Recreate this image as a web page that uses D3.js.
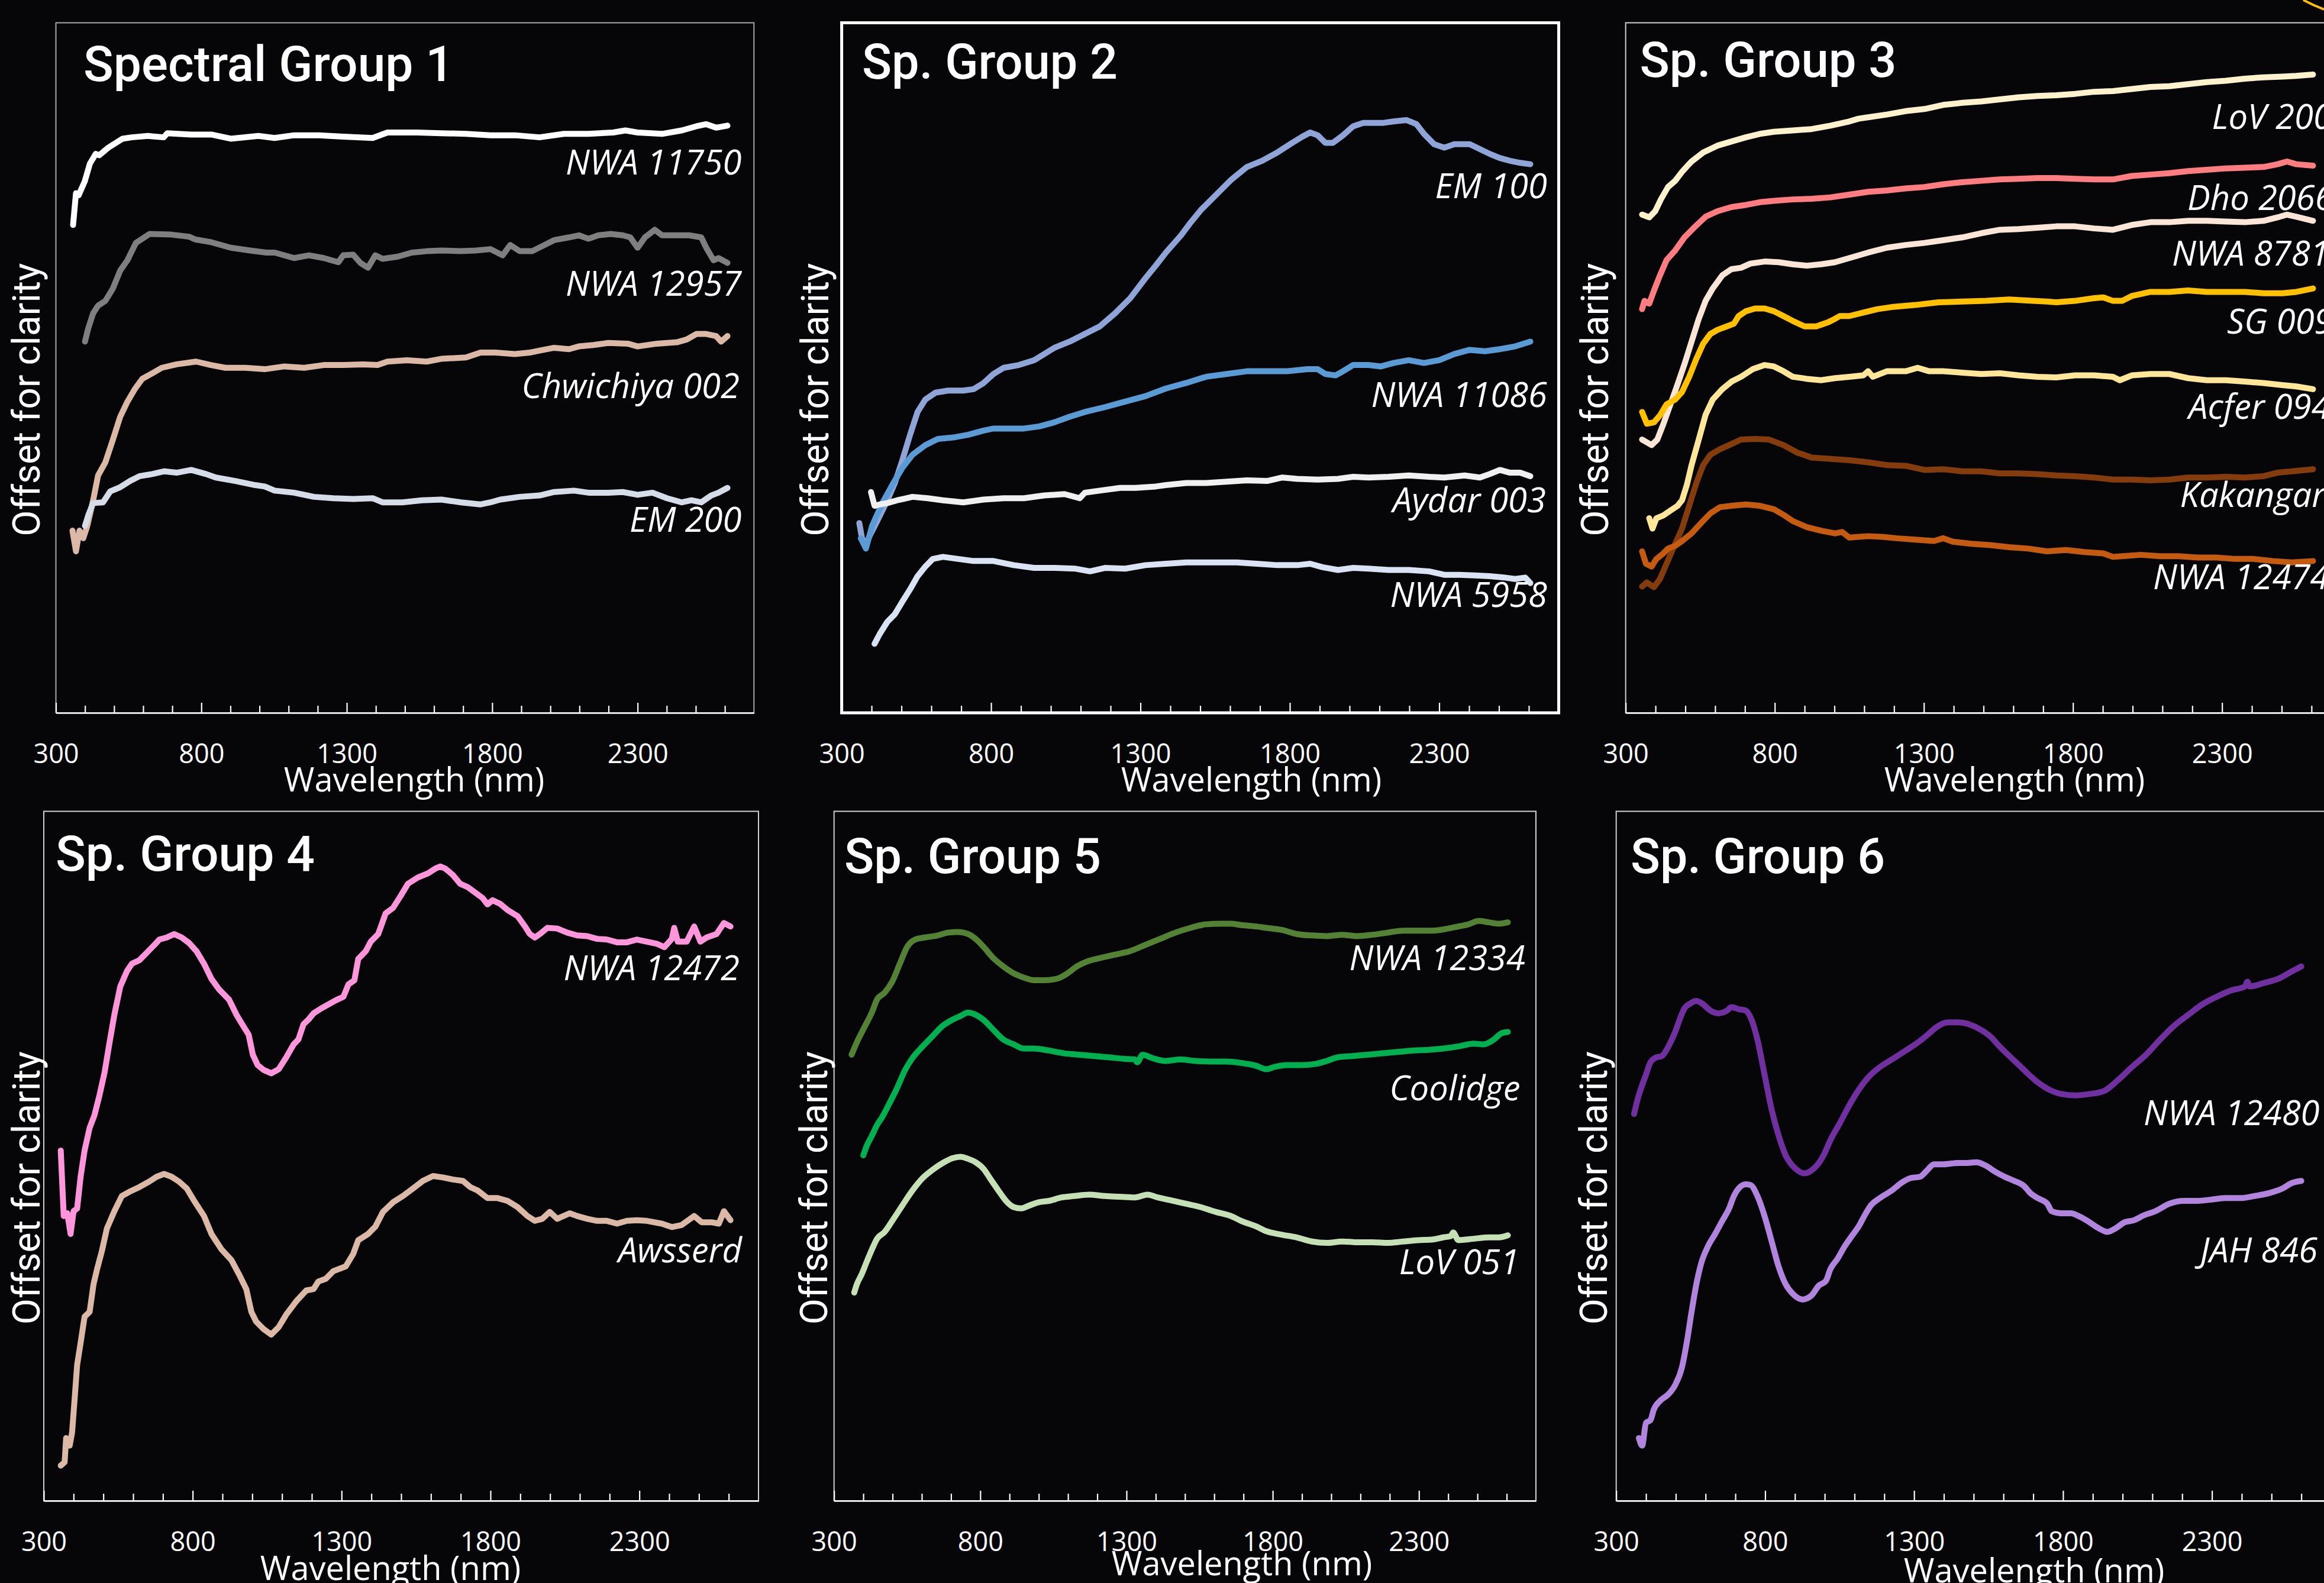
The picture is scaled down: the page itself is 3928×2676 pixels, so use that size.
<!DOCTYPE html>
<html>
<head>
<meta charset="utf-8">
<script src="https://cdn.jsdelivr.net/npm/d3@7"></script>
<style>
  html, body { margin: 0; padding: 0; background: #060609; }
  svg { display: block; }
</style>
</head>
<body>
<svg id="chart" width="3928" height="2676"></svg>
<script>
// ---------------------------------------------------------------
// Reflectance spectra, offset for clarity.
// Each point: [wavelength (nm), offset reflectance (arbitrary units, 0-100 per panel)]
// ---------------------------------------------------------------
const groupTitles = ["Spectral Group 1", "Sp. Group 2", "Sp. Group 3", "Sp. Group 4", "Sp. Group 5", "Sp. Group 6"];
const majorTicks = [300, 800, 1300, 1800, 2300];
const wavelengthDomain = [300, 2700];

// Group 1
const nwa11750 = [[359,70.7],[369,75.3],[378,75.0],[399,77.0],[417,79.6],[437,81.0],[449,80.8],[480,81.9],[529,83.2],[561,83.4],[616,83.6],[671,83.4],[683,84.0],[765,83.8],[834,83.8],[901,83.2],[996,83.6],[1052,83.3],[1119,83.7],[1204,83.7],[1288,83.5],[1389,83.3],[1440,84.1],[1541,84.1],[1625,84.0],[1710,83.9],[1794,83.7],[1878,83.7],[1963,83.4],[2047,83.9],[2131,83.9],[2216,84.1],[2258,84.4],[2300,84.1],[2384,83.9],[2452,84.4],[2502,85.0],[2536,85.3],[2570,84.8],[2609,85.1]];
const nwa12957 = [[400,53.8],[411,55.7],[428,57.9],[445,59.0],[470,59.7],[496,61.5],[521,64.1],[546,65.6],[575,68.1],[622,69.4],[697,69.3],[758,69.0],[779,68.6],[834,68.2],[901,67.4],[968,67.0],[1023,66.7],[1052,66.7],[1119,65.9],[1170,66.3],[1221,65.9],[1271,65.3],[1288,66.3],[1322,66.4],[1347,65.2],[1373,64.5],[1398,66.3],[1423,65.8],[1474,66.1],[1524,66.7],[1575,66.9],[1625,67.0],[1693,66.9],[1743,67.0],[1794,67.2],[1836,66.3],[1862,67.8],[1895,66.9],[1937,66.9],[1980,67.8],[2013,68.5],[2064,68.9],[2098,69.2],[2131,68.7],[2165,69.2],[2207,69.4],[2249,69.2],[2275,68.9],[2300,67.4],[2325,68.9],[2359,70.0],[2384,69.2],[2435,69.2],[2477,69.2],[2519,68.9],[2536,67.4],[2561,65.6],[2578,65.9],[2609,65.2]];
const chwichiya002 = [[357,26.4],[369,23.4],[381,26.4],[394,25.3],[408,27.1],[428,30.8],[445,34.4],[470,36.3],[496,39.6],[521,42.9],[546,45.1],[571,46.9],[597,48.4],[631,49.2],[664,50.0],[715,50.5],[782,50.9],[833,50.4],[883,50.0],[951,50.0],[1018,49.8],[1086,50.2],[1153,50.0],[1221,50.4],[1288,50.4],[1356,50.5],[1406,50.4],[1440,50.9],[1507,51.1],[1575,50.9],[1625,51.3],[1710,51.5],[1760,52.2],[1811,52.2],[1878,52.0],[1929,52.2],[1963,52.5],[2013,52.9],[2064,52.7],[2098,53.1],[2148,53.3],[2199,53.6],[2266,53.5],[2300,53.1],[2367,53.5],[2435,53.7],[2469,54.1],[2502,54.9],[2536,54.9],[2570,54.6],[2587,53.8],[2609,54.6]];
const em200 = [[400,27.1],[411,28.6],[428,30.4],[462,30.5],[487,32.1],[521,32.7],[555,33.6],[588,34.3],[631,34.6],[673,35.0],[715,34.8],[765,35.2],[816,34.6],[850,34.1],[917,33.6],[985,33.0],[1018,32.8],[1052,32.2],[1119,31.9],[1187,31.3],[1254,31.1],[1322,31.0],[1389,31.1],[1423,30.5],[1491,30.5],[1558,30.8],[1625,30.9],[1693,30.5],[1760,30.2],[1794,30.5],[1828,30.9],[1895,31.3],[1963,31.5],[2013,32.0],[2081,32.2],[2131,31.9],[2199,31.9],[2249,32.0],[2300,31.6],[2351,31.9],[2401,31.1],[2452,30.5],[2485,30.8],[2519,30.5],[2553,31.5],[2578,31.9],[2609,32.6]];

// Group 2
const em100 = [[359,27.5],[368,25.3],[380,24.2],[393,25.6],[419,27.8],[453,30.8],[478,33.3],[503,36.6],[529,40.3],[554,43.6],[580,45.4],[614,46.4],[656,46.7],[707,46.7],[741,46.9],[775,47.8],[808,49.1],[842,50.0],[893,50.4],[944,51.1],[978,52.0],[1012,52.9],[1063,53.8],[1114,54.9],[1164,56.0],[1215,57.9],[1266,60.1],[1317,63.0],[1351,64.8],[1385,66.7],[1436,69.2],[1469,71.1],[1503,72.9],[1554,75.1],[1605,77.3],[1656,79.1],[1707,80.0],[1758,81.2],[1808,82.6],[1842,83.5],[1868,84.1],[1893,83.7],[1919,82.6],[1944,82.6],[1978,83.7],[2012,85.0],[2046,85.5],[2114,85.5],[2147,85.7],[2190,85.9],[2224,85.3],[2249,83.9],[2283,82.4],[2317,81.9],[2351,82.4],[2402,82.4],[2436,81.7],[2469,81.0],[2503,80.4],[2537,80.0],[2571,79.7],[2605,79.5]];
const nwa11086 = [[364,25.3],[381,23.8],[402,27.1],[436,30.4],[469,33.0],[503,35.5],[537,37.4],[580,38.8],[622,39.7],[673,39.9],[724,40.3],[775,40.9],[808,41.2],[842,41.2],[910,41.2],[961,41.5],[1012,42.1],[1063,42.9],[1114,43.6],[1181,44.3],[1249,45.1],[1317,45.9],[1385,47.0],[1453,47.8],[1520,48.7],[1588,49.1],[1656,49.5],[1724,49.5],[1792,49.5],[1859,49.8],[1893,49.8],[1919,49.1],[1953,48.9],[1978,49.5],[2012,50.4],[2063,50.4],[2105,50.2],[2147,50.7],[2198,51.1],[2249,50.7],[2300,51.1],[2351,52.0],[2402,52.6],[2453,52.4],[2503,52.7],[2554,53.1],[2605,53.8]];
const aydar003 = [[398,32.0],[410,30.0],[427,30.2],[453,30.4],[486,30.8],[537,31.3],[588,31.1],[639,30.8],[707,30.5],[775,30.9],[842,31.1],[910,31.1],[978,31.5],[1046,31.7],[1097,31.1],[1114,31.9],[1164,32.2],[1232,32.6],[1283,32.6],[1351,32.8],[1385,33.0],[1453,33.3],[1520,33.3],[1588,33.5],[1656,33.7],[1724,33.6],[1775,34.1],[1825,33.9],[1893,33.8],[1961,33.9],[2012,34.2],[2063,34.1],[2131,34.2],[2198,34.4],[2266,34.2],[2317,34.1],[2385,34.4],[2436,34.1],[2469,34.6],[2503,35.2],[2537,34.8],[2571,34.8],[2605,34.3]];
const nwa5958 = [[410,10.0],[427,11.4],[453,13.2],[478,14.3],[503,16.1],[529,17.9],[554,19.8],[580,21.2],[605,22.3],[639,22.6],[690,22.3],[741,22.0],[808,22.0],[876,21.4],[944,21.0],[1012,21.0],[1080,20.9],[1131,20.5],[1181,21.0],[1249,20.9],[1317,21.4],[1385,21.6],[1453,21.8],[1537,21.8],[1622,21.8],[1690,21.6],[1758,21.4],[1825,21.4],[1868,21.6],[1910,21.1],[1961,20.7],[2012,21.0],[2063,20.9],[2131,20.7],[2198,20.7],[2266,20.5],[2317,20.0],[2368,20.0],[2419,19.9],[2469,19.8],[2520,19.6],[2554,19.4],[2588,19.6],[2605,18.8]];

// Group 3
const lov200 = [[355,72.2],[379,71.8],[399,72.7],[418,74.4],[442,76.2],[466,77.1],[489,78.4],[521,79.9],[560,81.2],[608,82.2],[655,82.8],[703,83.4],[750,83.9],[797,84.2],[860,84.4],[924,84.6],[987,85.1],[1050,85.7],[1081,86.1],[1113,86.3],[1176,86.7],[1239,87.2],[1302,87.5],[1365,88.1],[1429,88.4],[1492,88.6],[1555,88.9],[1618,89.2],[1681,89.4],[1744,89.5],[1807,89.7],[1871,90.0],[1934,90.1],[1997,90.4],[2060,90.7],[2123,90.8],[2186,91.1],[2249,91.4],[2313,91.6],[2376,91.9],[2439,92.1],[2502,92.2],[2549,92.3],[2605,92.5]];
const dho2066 = [[355,58.5],[363,59.7],[379,59.3],[395,61.2],[415,63.4],[437,65.6],[466,67.0],[497,68.9],[529,70.3],[568,71.9],[608,72.7],[655,73.3],[703,73.6],[750,74.0],[797,74.2],[860,74.4],[924,74.5],[987,74.7],[1050,75.1],[1113,75.5],[1176,75.7],[1239,76.0],[1302,76.2],[1365,76.6],[1429,76.9],[1492,77.1],[1555,77.3],[1618,77.4],[1681,77.5],[1744,77.5],[1807,77.4],[1871,77.3],[1934,77.3],[1997,77.8],[2060,78.0],[2123,78.2],[2186,78.5],[2249,78.7],[2313,78.9],[2376,79.0],[2439,79.1],[2486,79.5],[2518,79.9],[2549,79.5],[2605,79.3]];
const nwa8781 = [[355,39.6],[371,39.2],[387,38.8],[406,39.6],[426,41.8],[450,44.7],[474,47.6],[497,50.5],[521,53.8],[545,57.1],[568,59.7],[592,61.5],[624,63.4],[655,64.3],[687,64.5],[718,65.1],[766,65.4],[813,65.3],[860,65.0],[908,64.8],[955,65.0],[1002,65.3],[1050,65.9],[1113,66.7],[1176,67.4],[1239,67.8],[1302,68.1],[1365,68.5],[1429,68.9],[1492,69.5],[1555,70.0],[1618,70.1],[1681,70.3],[1744,70.5],[1807,70.5],[1871,70.2],[1934,70.0],[1997,70.7],[2060,71.1],[2123,71.1],[2186,71.3],[2249,71.3],[2313,71.2],[2376,71.1],[2439,71.3],[2486,71.8],[2518,72.2],[2549,71.9],[2605,71.3]];
const sg009 = [[355,43.6],[371,41.9],[395,42.1],[415,43.1],[437,44.7],[466,45.4],[489,46.5],[513,48.7],[537,51.3],[560,53.5],[584,54.9],[608,55.5],[639,56.0],[663,56.4],[679,57.5],[703,58.2],[734,58.6],[766,58.6],[797,58.2],[829,57.5],[860,56.8],[900,56.0],[939,56.0],[979,56.6],[1002,57.1],[1018,57.5],[1050,57.5],[1097,58.0],[1144,58.5],[1192,58.8],[1271,59.1],[1350,59.5],[1429,59.6],[1508,59.7],[1586,59.9],[1665,59.7],[1713,59.6],[1744,59.5],[1807,59.7],[1871,60.1],[1902,60.2],[1934,59.7],[1965,59.7],[1997,60.4],[2060,61.0],[2123,61.0],[2186,61.2],[2249,61.0],[2313,61.0],[2376,61.0],[2439,60.8],[2502,60.8],[2549,61.0],[2605,61.5]];
const acfer094 = [[379,28.2],[390,26.7],[403,28.2],[426,28.6],[450,29.3],[474,30.0],[489,30.8],[505,33.0],[521,35.9],[545,39.6],[568,43.2],[592,45.4],[624,46.9],[655,48.0],[687,48.7],[726,49.8],[766,50.4],[797,50.2],[829,49.5],[860,48.7],[908,48.4],[955,48.2],[1002,48.5],[1050,48.7],[1097,48.9],[1113,49.5],[1129,48.7],[1176,49.5],[1239,49.5],[1279,50.0],[1318,49.5],[1365,49.5],[1429,49.3],[1492,49.1],[1555,49.2],[1618,48.9],[1681,48.7],[1744,48.6],[1807,48.9],[1871,48.9],[1934,48.7],[1957,48.2],[1997,48.9],[2060,49.1],[2123,49.1],[2186,48.5],[2249,48.2],[2313,48.2],[2376,48.0],[2439,47.8],[2502,47.5],[2549,47.3],[2605,46.9]];
const kakangari = [[355,18.3],[371,18.9],[395,18.2],[415,19.4],[437,21.6],[466,24.5],[489,26.7],[513,30.0],[537,33.3],[560,35.9],[584,37.4],[616,38.2],[647,38.8],[687,39.6],[734,39.7],[781,39.6],[829,38.8],[876,37.7],[924,37.0],[987,36.8],[1050,36.6],[1113,36.3],[1176,35.9],[1239,35.8],[1302,35.2],[1365,35.3],[1429,35.0],[1492,35.0],[1555,34.7],[1618,34.7],[1681,34.6],[1744,34.4],[1807,34.3],[1871,34.1],[1934,33.8],[1997,33.8],[2060,33.7],[2123,33.8],[2186,34.1],[2249,34.1],[2313,34.2],[2376,34.1],[2439,34.3],[2486,34.8],[2534,35.0],[2605,35.3]];
const nwa12474 = [[355,23.4],[368,21.6],[387,21.2],[403,22.3],[426,23.1],[442,23.8],[466,24.2],[489,24.9],[521,26.0],[553,27.5],[584,28.9],[616,29.8],[655,30.0],[703,30.2],[750,30.0],[797,29.5],[829,28.7],[860,27.8],[908,26.9],[955,26.4],[1002,26.0],[1026,26.2],[1050,25.4],[1081,25.5],[1113,25.6],[1160,25.5],[1208,25.3],[1271,25.1],[1334,24.9],[1365,25.3],[1397,24.8],[1460,24.5],[1523,24.3],[1586,24.0],[1650,23.8],[1713,23.4],[1776,23.6],[1839,23.3],[1902,23.1],[1934,22.6],[1965,22.7],[2028,22.9],[2092,22.7],[2155,22.7],[2218,22.5],[2281,22.5],[2344,22.3],[2407,22.3],[2470,22.0],[2534,21.8],[2605,22.0]];

// Group 4
const nwa12472 = [[357,50.8],[367,41.3],[379,41.7],[390,38.7],[400,42.0],[412,42.4],[424,47.1],[437,50.8],[454,54.1],[470,55.9],[487,58.8],[504,62.1],[521,66.5],[537,70.5],[557,74.6],[579,76.8],[596,77.9],[621,78.4],[646,79.5],[671,80.6],[688,81.4],[713,81.7],[738,82.2],[763,81.7],[788,80.9],[813,79.7],[838,77.9],[863,75.7],[888,74.2],[922,72.7],[947,70.5],[972,68.7],[988,67.6],[1002,64.7],[1018,63.2],[1038,62.5],[1064,62.0],[1089,62.6],[1114,64.3],[1139,66.2],[1155,66.9],[1172,69.1],[1189,69.8],[1206,70.7],[1231,71.4],[1256,72.0],[1281,72.6],[1306,73.1],[1323,74.9],[1343,75.5],[1356,78.6],[1381,79.7],[1398,81.1],[1423,82.2],[1448,85.2],[1473,86.0],[1498,87.7],[1523,89.5],[1556,90.4],[1590,91.0],[1615,91.7],[1632,92.0],[1648,91.7],[1673,90.8],[1698,89.5],[1724,89.0],[1749,88.2],[1774,87.4],[1790,86.5],[1807,87.1],[1832,86.6],[1857,85.7],[1891,84.8],[1916,83.3],[1932,82.2],[1949,81.7],[1966,82.2],[1991,83.1],[2024,83.0],[2058,82.4],[2091,82.0],[2125,81.9],[2158,81.5],[2191,81.4],[2225,81.0],[2258,81.0],[2292,81.4],[2325,81.1],[2358,80.8],[2384,80.3],[2409,81.5],[2417,83.1],[2429,81.1],[2459,81.1],[2484,83.3],[2505,81.1],[2526,81.7],[2559,82.2],[2584,83.8],[2606,83.3]];
const awsserd = [[357,5.1],[370,5.6],[375,9.1],[387,8.0],[395,9.9],[404,15.0],[412,19.7],[424,23.0],[437,26.7],[454,27.4],[467,31.4],[479,33.6],[495,36.2],[512,39.5],[537,42.0],[562,44.2],[587,44.8],[621,45.5],[654,46.3],[679,47.0],[704,47.4],[729,47.0],[754,46.3],[780,45.3],[805,43.5],[838,41.3],[863,38.7],[896,36.5],[930,34.9],[955,32.9],[980,30.7],[997,27.4],[1013,26.0],[1038,24.9],[1064,24.1],[1089,25.2],[1114,27.0],[1147,28.9],[1181,30.5],[1206,30.7],[1222,31.8],[1247,32.2],[1272,33.3],[1314,34.0],[1339,35.8],[1356,37.8],[1389,38.7],[1414,39.8],[1439,41.9],[1473,43.3],[1506,44.2],[1540,45.3],[1573,46.4],[1607,47.1],[1640,46.9],[1673,46.6],[1707,46.4],[1732,45.5],[1757,45.0],[1790,43.9],[1824,43.9],[1857,43.5],[1891,42.6],[1924,41.3],[1949,40.6],[1974,40.9],[1999,41.9],[2024,40.9],[2066,41.7],[2091,41.3],[2125,40.9],[2158,40.6],[2191,40.6],[2225,40.2],[2258,40.6],[2292,40.7],[2325,40.6],[2375,40.2],[2409,39.7],[2442,40.0],[2484,41.3],[2509,40.4],[2542,40.4],[2567,40.2],[2584,42.0],[2606,40.7]];

// Group 5
const nwa12334 = [[360,64.7],[378,66.5],[404,68.7],[430,70.9],[447,72.7],[473,73.7],[499,75.3],[525,77.9],[551,80.4],[577,81.4],[611,81.7],[654,82.0],[689,82.4],[724,82.5],[758,82.2],[784,81.5],[810,80.4],[845,78.7],[879,77.5],[914,76.5],[948,75.9],[983,75.5],[1017,75.5],[1061,75.7],[1095,76.4],[1130,77.5],[1164,78.2],[1208,78.7],[1259,79.2],[1311,79.7],[1363,80.6],[1415,81.5],[1467,82.4],[1519,83.1],[1570,83.6],[1622,83.7],[1657,83.7],[1692,83.5],[1743,83.3],[1778,83.1],[1830,82.8],[1882,82.2],[1934,82.0],[1985,81.9],[2037,82.1],[2089,81.9],[2141,82.1],[2193,82.4],[2245,82.7],[2297,82.7],[2348,82.7],[2400,83.0],[2435,83.3],[2469,83.6],[2504,84.1],[2539,83.9],[2573,83.7],[2604,83.9]];
const coolidge = [[400,50.1],[412,51.5],[430,53.0],[447,54.5],[464,55.6],[490,57.7],[516,59.9],[542,62.4],[568,64.2],[603,65.9],[637,67.4],[672,68.9],[706,69.8],[732,70.3],[758,70.8],[784,70.5],[810,69.8],[845,68.3],[879,66.9],[914,66.2],[948,65.6],[983,65.6],[1035,65.3],[1087,64.9],[1138,64.7],[1190,64.5],[1242,64.3],[1294,64.1],[1329,64.0],[1337,63.6],[1355,64.7],[1389,64.2],[1432,63.8],[1484,64.0],[1536,63.8],[1588,63.7],[1640,63.7],[1692,63.5],[1743,63.1],[1778,62.6],[1804,62.9],[1847,63.2],[1899,63.2],[1951,63.4],[1985,63.8],[2020,64.3],[2072,64.5],[2124,64.7],[2176,64.9],[2227,65.1],[2279,65.3],[2331,65.4],[2383,65.6],[2435,65.9],[2487,66.3],[2521,66.2],[2556,66.9],[2582,67.8],[2604,68.0]];
const lov051 = [[369,30.2],[378,31.4],[395,32.9],[412,34.7],[430,36.5],[447,38.0],[473,39.0],[499,40.6],[533,42.8],[568,45.0],[603,46.8],[637,48.0],[672,49.0],[706,49.7],[732,49.9],[758,49.6],[784,49.1],[810,48.2],[836,46.6],[862,45.0],[888,43.5],[914,42.6],[940,42.4],[966,42.8],[1000,43.3],[1035,43.5],[1078,44.0],[1121,44.2],[1173,44.4],[1225,44.2],[1277,44.1],[1329,44.0],[1372,44.4],[1406,44.0],[1450,43.6],[1501,43.1],[1553,42.6],[1605,41.9],[1657,41.3],[1692,40.6],[1743,39.8],[1778,39.1],[1830,38.6],[1882,38.2],[1934,37.6],[1985,37.4],[2037,37.6],[2089,37.5],[2141,37.5],[2193,37.4],[2245,37.6],[2297,37.8],[2348,37.9],[2383,38.2],[2409,38.4],[2417,38.9],[2435,37.8],[2487,38.0],[2539,38.2],[2573,38.2],[2604,38.5]];

// Group 6
const nwa12480 = [[360,56.1],[371,58.1],[384,59.9],[400,61.8],[415,63.6],[434,64.3],[453,64.5],[474,65.8],[498,68.0],[513,69.8],[529,71.4],[548,72.1],[569,72.5],[592,72.0],[616,71.1],[643,70.7],[672,71.1],[687,71.6],[711,71.3],[735,71.1],[754,69.8],[774,66.9],[798,61.8],[822,56.7],[845,53.0],[869,50.1],[901,48.2],[932,47.5],[964,48.2],[996,50.1],[1019,52.3],[1051,54.8],[1083,57.4],[1114,59.6],[1146,61.4],[1185,62.9],[1225,64.0],[1272,65.3],[1320,66.7],[1351,67.8],[1375,68.7],[1415,69.4],[1446,69.4],[1486,69.1],[1525,68.3],[1557,67.3],[1589,65.8],[1620,64.5],[1652,63.2],[1683,61.9],[1715,60.7],[1755,59.6],[1794,59.0],[1841,58.8],[1889,59.0],[1936,59.4],[1984,61.0],[2031,62.9],[2079,64.7],[2126,66.9],[2173,68.9],[2221,70.5],[2268,72.0],[2316,73.1],[2363,74.0],[2411,74.6],[2419,75.3],[2427,74.6],[2474,75.1],[2522,75.7],[2569,76.8],[2600,77.5]];
const jah846 = [[376,9.1],[387,8.0],[400,11.3],[415,11.7],[426,13.2],[450,14.6],[474,15.4],[498,16.8],[521,19.4],[537,23.0],[553,27.4],[569,31.4],[585,34.4],[608,36.9],[632,38.7],[656,40.6],[679,42.4],[695,44.2],[711,45.3],[735,45.9],[751,45.8],[774,44.2],[798,41.3],[822,37.6],[845,34.0],[869,31.4],[893,30.0],[925,29.2],[956,29.8],[980,31.2],[1004,31.9],[1019,33.6],[1043,35.1],[1067,36.9],[1091,38.4],[1114,39.8],[1138,41.7],[1154,42.8],[1185,43.9],[1225,45.0],[1257,46.1],[1288,46.8],[1320,47.0],[1343,47.9],[1367,48.8],[1399,48.8],[1446,49.0],[1478,49.0],[1509,49.1],[1541,48.6],[1573,47.7],[1604,47.0],[1636,46.4],[1668,45.7],[1691,44.6],[1715,43.9],[1747,43.1],[1762,42.0],[1794,41.7],[1826,41.7],[1857,41.2],[1889,40.4],[1921,39.5],[1949,39.0],[1976,39.5],[2007,40.4],[2039,40.7],[2071,41.4],[2110,42.0],[2158,43.1],[2205,43.5],[2253,43.5],[2300,43.7],[2347,43.9],[2395,43.9],[2442,44.2],[2490,44.6],[2537,45.3],[2569,46.1],[2600,46.4]];

const seriesNames = [
  ["NWA 11750", "NWA 12957", "Chwichiya 002", "EM 200"],
  ["EM 100", "NWA 11086", "Aydar 003", "NWA 5958"],
  ["LoV 200", "Dho 2066", "NWA 8781", "SG 009", "Acfer 094", "Kakangari", "NWA 12474"],
  ["NWA 12472", "Awsserd"],
  ["NWA 12334", "Coolidge", "LoV 051"],
  ["NWA 12480", "JAH 846"]
];
const seriesData = [
  [nwa11750, nwa12957, chwichiya002, em200],
  [em100, nwa11086, aydar003, nwa5958],
  [lov200, dho2066, nwa8781, sg009, acfer094, kakangari, nwa12474],
  [nwa12472, awsserd],
  [nwa12334, coolidge, lov051],
  [nwa12480, jah846]
];

// ---------------------------------------------------------------
// Styling and layout
// ---------------------------------------------------------------
const seriesColors = [
  ["#ffffff", "#7f7f7f", "#dcb9a6", "#d6dce8"],
  ["#8fa5d8", "#5b9bd5", "#f0f0f0", "#dae3f3"],
  ["#fff2cc", "#ff7c80", "#fbe5d6", "#ffc000", "#ffe699", "#843c0c", "#c55a11"],
  ["#ff96dc", "#dbb9a6"],
  ["#548235", "#00b050", "#c5e0b4"],
  ["#7030a0", "#b184de"]
];

const panels = [
  { x0: 94.5,   x1: 1274.3, top: 38.5,   bottom: 1205, frame: "#a6a6a6", frameW: 2,
    titleX: 141,    titleY: 137,  titleW: 626, yLabX: 67,   xTitleX: 700,  xTitleY: 1338, smooth: false,
    labels: [["end",1253.5,295],["end",1253.5,500],["end",1250,673],["end",1253.5,899]] },
  { x0: 1422.6, x1: 2634.5, top: 38.5,   bottom: 1205, frame: "#ffffff", frameW: 5,
    titleX: 1457,   titleY: 133,  titleW: 432, yLabX: 1400, xTitleX: 2115, xTitleY: 1338, smooth: false,
    labels: [["end",2615,335],["end",2615,688],["end",2613,866],["end",2615,1026]] },
  { x0: 2747.7, x1: 3957.3, top: 38.5,   bottom: 1205, frame: "#d0d0d0", frameW: 2,
    titleX: 2771.5, titleY: 130,  titleW: 434, yLabX: 2718, xTitleX: 3405, xTitleY: 1338, smooth: false,
    labels: [["start",3738.6,218],["start",3697,355],["start",3671,449],["start",3764,564],["start",3699,708],["start",3684.5,857],["start",3639,996]] },
  { x0: 74,     x1: 1282,   top: 1371.5, bottom: 2537, frame: "#d0d0d0", frameW: 2,
    titleX: 94,     titleY: 1472, titleW: 438, yLabX: 67,   xTitleX: 660,  xTitleY: 2671, smooth: false,
    labels: [["end",1250,1657],["end",1254,2134]] },
  { x0: 1409.7, x1: 2596,   top: 1371.5, bottom: 2537, frame: "#d0d0d0", frameW: 2,
    titleX: 1427,   titleY: 1476, titleW: 434, yLabX: 1398, xTitleX: 2099, xTitleY: 2663, smooth: true,
    labels: [["end",2578,1640],["end",2569.6,1860],["end",2568,2154]] },
  { x0: 2731.7, x1: 3940,   top: 1371.5, bottom: 2537, frame: "#d0d0d0", frameW: 2,
    titleX: 2756,   titleY: 1476, titleW: 430, yLabX: 2716, xTitleX: 3438, xTitleY: 2675, smooth: true,
    labels: [["start",3623,1902],["start",3718.7,2134]] }
];

const minorStep = 100;

// ---------------------------------------------------------------
// Drawing
// ---------------------------------------------------------------
const svg = d3.select("#chart");
svg.append("rect").attr("width", 3928).attr("height", 2676).attr("fill", "#060609");

panels.forEach((P, i) => {
  const g = svg.append("g").attr("class", "panel");
  const x = d3.scaleLinear().domain(wavelengthDomain).range([P.x0, P.x1]);
  const y = d3.scaleLinear().domain([0, 100]).range([P.bottom, P.top]);

  // plot frame
  g.append("rect")
    .attr("x", P.x0).attr("y", P.top)
    .attr("width", P.x1 - P.x0).attr("height", P.bottom - P.top)
    .attr("fill", "none")
    .attr("stroke", P.frame)
    .attr("stroke-width", P.frameW);

  // wavelength axis with inward ticks
  const axis = d3.axisBottom(x)
    .tickValues(d3.range(wavelengthDomain[0], wavelengthDomain[1], minorStep))
    .tickSize(-12)
    .tickSizeOuter(0)
    .tickPadding(53)
    .tickFormat(d => majorTicks.includes(d) ? String(d) : "");

  const ax = g.append("g")
    .attr("transform", `translate(0,${P.bottom})`)
    .call(axis)
    .attr("font-family", "'Open Sans', sans-serif")
    .attr("font-size", 45);
  ax.select(".domain").attr("stroke", "#ffffff").attr("stroke-width", 2.5);
  ax.selectAll(".tick line")
    .attr("stroke", "#ffffff")
    .attr("stroke-width", 2.2)
    .attr("y2", d => majorTicks.includes(d) ? -17 : -12);
  ax.selectAll(".tick text").attr("fill", "#ffffff");

  // axis titles
  g.append("text")
    .attr("x", P.xTitleX).attr("y", P.xTitleY)
    .attr("text-anchor", "middle")
    .attr("fill", "#ffffff")
    .attr("font-family", "'Open Sans', sans-serif")
    .attr("font-size", 56)
    .text("Wavelength (nm)");

  const yMid = (P.top + P.bottom) / 2 + 54;
  g.append("text")
    .attr("transform", `translate(${P.yLabX},${yMid}) rotate(-90)`)
    .attr("text-anchor", "middle")
    .attr("fill", "#ffffff")
    .attr("font-family", "Roboto, sans-serif")
    .attr("font-size", 65)
    .attr("textLength", 462)
    .attr("lengthAdjust", "spacingAndGlyphs")
    .text("Offset for clarity");

  // group title
  g.append("text")
    .attr("x", P.titleX).attr("y", P.titleY)
    .attr("fill", "#ffffff")
    .attr("font-family", "Roboto, sans-serif")
    .attr("font-weight", 500)
    .attr("font-size", 83)
    .attr("textLength", P.titleW)
    .attr("lengthAdjust", "spacingAndGlyphs")
    .text(groupTitles[i]);

  // spectra
  const line = d3.line()
    .x(d => x(d[0]))
    .y(d => y(d[1]))
    .curve(P.smooth ? d3.curveMonotoneX : d3.curveLinear);

  const series = seriesData[i].map((data, k) => ({ name: seriesNames[i][k], color: seriesColors[i][k], data }));

  g.selectAll("path.spectrum")
    .data(series)
    .join("path")
    .attr("class", "spectrum")
    .attr("d", s => line(s.data))
    .attr("fill", "none")
    .attr("stroke", s => s.color)
    .attr("stroke-width", 10)
    .attr("stroke-linejoin", "round")
    .attr("stroke-linecap", "round");

  // sample names
  g.selectAll("text.sample")
    .data(series)
    .join("text")
    .attr("class", "sample")
    .attr("x", (s, k) => P.labels[k][1])
    .attr("y", (s, k) => P.labels[k][2])
    .attr("text-anchor", (s, k) => P.labels[k][0])
    .attr("fill", "#ffffff")
    .attr("font-family", "'Open Sans', sans-serif")
    .attr("font-style", "italic")
    .attr("font-size", 58)
    .text(s => s.name);
});

// edge of a call-out arrow entering from the upper right
svg.append("path")
  .attr("d", "M3893,0 Q3910,9 3928,16")
  .attr("fill", "none")
  .attr("stroke", "#ffc000")
  .attr("stroke-width", 4);
</script>
</body>
</html>
